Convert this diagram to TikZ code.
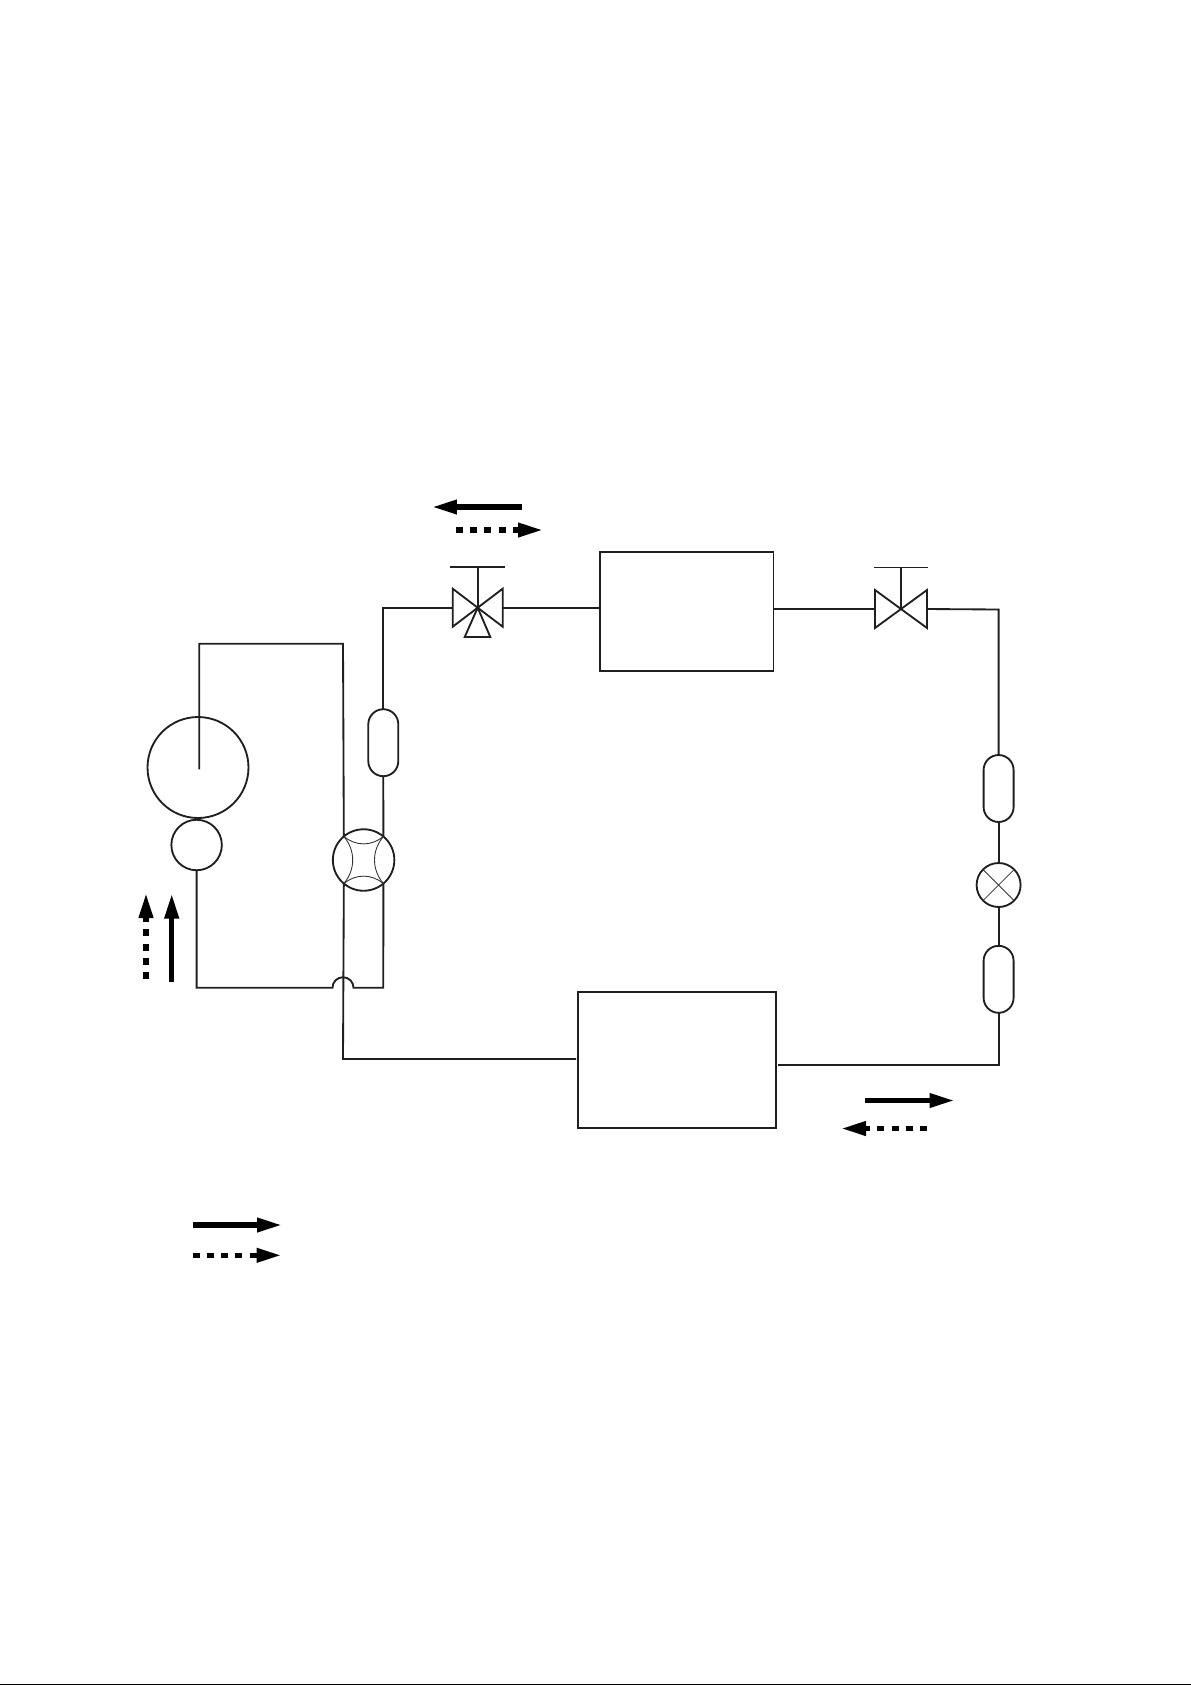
\documentclass[tikz,border=0pt]{standalone}
\usetikzlibrary{arrows.meta}
\tikzset{
	pipe/.style={line width=1.05pt,color=black!88},
	unitbox/.style={draw,line width=1.05pt,color=black!88,inner sep=0pt,outer sep=0pt},
	capsule/.style={unitbox,minimum width=0.6cm,minimum height=1.34cm,rounded corners=0.3cm},
	ring/.style={unitbox,circle},
	valvebody/.style={inner sep=0pt,outer sep=0pt,minimum width=1.04cm,minimum height=0.76cm},
	flowsolid/.style={line width=3pt,-{Triangle[length=0.5cm,width=0.27cm]}},
	flowdash/.style={line width=3pt,dash pattern=on 4pt off 4.1pt,-{Triangle[length=0.5cm,width=0.27cm]}}
}
% bowtie and hand wheel of a valve
\newcommand{\valve}[1]{
	\draw[pipe,line join=miter] (#1.north west) -- (#1.south east) -- (#1.north east) -- (#1.south west) -- cycle;
	\draw[pipe] (#1.center) -- (#1top);
}
\begin{document}
\begin{tikzpicture}[x=0.02cm,y=-0.02cm]
	\useasboundingbox (0,0) rectangle (1191,1685);
	\draw[line width=1pt] (0,1684.5) -- (1191,1684.5);

	% units
	\node[unitbox,minimum width=3.47cm,minimum height=2.37cm] (indoor) at (686.8,611.5) {};
	\node[unitbox,minimum width=3.96cm,minimum height=2.72cm] (outdoor) at (677.2,1060) {};
	\node[ring,minimum size=2.02cm] (compressor) at (198,767.5) {};
	\node[ring,minimum size=1.01cm] (separator) at (196.6,845) {};
	\node[ring,minimum size=1.23cm] (fourway) at (363.6,860) {};
	\node[ring,minimum size=0.88cm] (expansion) at (998.6,885) {};
	\node[capsule] (filterl) at (383.3,742.7) {};
	\node[capsule] (filtert) at (998.6,788.5) {};
	\node[capsule] (filterb) at (998.6,979.3) {};

	% valves
	\node[valvebody,minimum width=1cm] (valvel) at (477.7,607.7) {};
	\node[valvebody] (valver) at (901,609) {};
	\coordinate (valveltop) at (477.7,567);
	\coordinate (valvertop) at (901,567.5);
	\coordinate (barlw) at (450,567);
	\coordinate (barle) at (505.3,567);
	\coordinate (barrw) at (874,567.5);
	\coordinate (barre) at (928.3,567.5);
	\coordinate (portw) at (464.7,637);
	\coordinate (porte) at (490.3,637);
	\valve{valvel}
	\valve{valver}
	\draw[pipe] (barlw) -- (barle);
	\draw[pipe] (barrw) -- (barre);
	\draw[pipe] (valvel.center) -- (portw) -- (porte) -- cycle;

	% inside the four way valve
	\begin{scope}[line width=0.5pt,color=black!80]
		\draw (fourway.130) to[bend right=40] (fourway.50);
		\draw (fourway.50) to[bend right=40] (fourway.-50);
		\draw (fourway.-50) to[bend right=40] (fourway.-130);
		\draw (fourway.-130) to[bend right=40] (fourway.130);
	\end{scope}

	% piping
	\coordinate (cornertl) at (199.3,643.7);
	\coordinate (cornertr) at (343,643.7);
	\coordinate (dischin) at (199.3,769.3);
	\coordinate (jumpw) at (332.5,987.7);
	\coordinate (cornerbr) at (383.3,987.7);
	\coordinate (cornerbl) at (343,1059);
	\coordinate (cornerv) at (383,607.7);
	\coordinate (cornerr) at (998.6,609.5);
	\coordinate (cornerd) at (998.6,1064.7);
	\coordinate (outdoorin) at (576,1059);
	\coordinate (outdoorout) at (778,1064.7);
	\draw[pipe] (dischin) -- (cornertl) -- (cornertr) -- (fourway.130);
	\draw[pipe] (fourway.-130) -- (cornerbl) -- (outdoorin);
	\draw[pipe] (separator.south) |- (jumpw) arc[start angle=180,end angle=360,radius=10.5] -- (cornerbr) -- (fourway.-50);
	\draw[pipe] (fourway.50) -- (filterl.south);
	\draw[pipe] (filterl.north) |- (valvel.west);
	\draw[pipe] (valvel.east) -- (indoor.west |- valvel.east);
	\draw[pipe] (indoor.east |- valver.west) -- (valver.west);
	\draw[pipe] (valver.east) -- (cornerr) -- (filtert.north);
	\draw[pipe] (filtert.south) -- (expansion.north);
	\draw[pipe] (expansion.south) -- (filterb.north);
	\draw[pipe] (filterb.south) -- (cornerd) -- (outdoorout);
	\draw[line width=0.5pt,color=black!80] (expansion.45) -- (expansion.-135);
	\draw[line width=0.5pt,color=black!80] (expansion.135) -- (expansion.-45);

	% flow arrows
	\foreach \name/\xa/\ya/\xb/\yb/\kind in {
		a/522/507/432/507/flowsolid,
		b/456/530/543/530/flowdash,
		c/146/979/146/893/flowdash,
		d/171.7/982/171.7/893.5/flowsolid,
		e/865/1100.5/954.5/1100.5/flowsolid,
		f/927/1128.5/841/1128.5/flowdash,
		g/192.7/1225/282/1225/flowsolid,
		h/192.7/1255.3/281.5/1255.3/flowdash}{
		\coordinate (\name tail) at (\xa,\ya);
		\coordinate (\name head) at (\xb,\yb);
		\draw[\kind] (\name tail) -- (\name head);
	}
\end{tikzpicture}
\end{document}
